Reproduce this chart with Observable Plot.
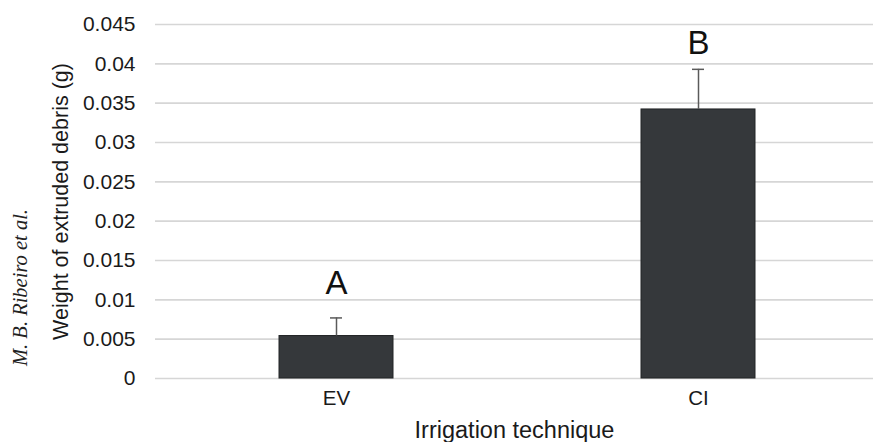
<!DOCTYPE html>
<html>
<head>
<meta charset="utf-8">
<script src="https://cdn.jsdelivr.net/npm/d3@7"></script>
<script src="https://cdn.jsdelivr.net/npm/@observablehq/plot@0.6"></script>
<style>
  html, body { margin: 0; padding: 0; background: #fff; }
  #chart svg { display: block; font-family: "Liberation Sans", Arial, sans-serif; }
</style>
</head>
<body>
<div id="chart"></div>
<script>
const categories = ["EV", "CI"];
const means = [0.0054, 0.0342];
const errors = [0.0023, 0.0051];
const letters = ["A", "B"];
const letterY = [0.0121, 0.0426];
const yTicks = [0, 0.005, 0.01, 0.015, 0.02, 0.025, 0.03, 0.035, 0.04, 0.045];
const yTickLabels = ["0", "0.005", "0.01", "0.015", "0.02", "0.025", "0.03", "0.035", "0.04", "0.045"];
const xTitle = "Irrigation technique";
const yTitle = "Weight of extruded debris (g)";
const sideNote = "M. B. Ribeiro et al.";

const rows = categories.map((c, i) => ({cat: c, mean: means[i], upper: means[i] + errors[i], letter: letters[i], ly: letterY[i]}));

const chart = Plot.plot({
  width: 873,
  height: 442,
  marginLeft: 155,
  marginRight: 0,
  marginTop: 24,
  marginBottom: 64,
  style: {fontFamily: "Liberation Sans, Arial, sans-serif", color: "#1a1a1a", background: "#fff"},
  x: {domain: categories, range: [155, 879], paddingInner: 0.685, paddingOuter: 0.3425, align: 0.5, label: null},
  y: {domain: [0, 0.045], label: null},
  marks: [
    Plot.ruleY(yTicks, {stroke: "#d6d6d6", strokeWidth: 1.6}),
    Plot.barY(rows, {x: "cat", y: "mean", fill: "#35383b", stroke: "#222426", strokeWidth: 1}),
    Plot.ruleX(rows, {x: "cat", y1: "mean", y2: "upper", stroke: "#5a5a5a", strokeWidth: 1.5}),
    Plot.tickY(rows, {x: "cat", y: "upper", stroke: "#5a5a5a", strokeWidth: 1.5, insetLeft: 51, insetRight: 51}),
    Plot.text(rows, {x: "cat", y: "ly", text: "letter", fontSize: 33, fill: "#111", lineAnchor: "middle"}),
    Plot.axisY({ticks: yTicks, tickFormat: (d, i) => yTickLabels[i], tickSize: 0, tickPadding: 20, fontSize: 21, label: null, fill: "#1a1a1a"}),
    Plot.axisX({tickSize: 0, tickPadding: 12, fontSize: 20.5, label: null, fill: "#1a1a1a"}),
    Plot.text([xTitle], {frameAnchor: "bottom", dy: 52, fontSize: 23.5, fill: "#1a1a1a", textAnchor: "middle", lineAnchor: "middle"}),
    Plot.text([yTitle], {frameAnchor: "left", dx: -94, rotate: -90, fontSize: 21.5, fill: "#1a1a1a", textAnchor: "middle", lineAnchor: "middle"}),
    Plot.text([sideNote], {frameAnchor: "left", dx: -135, dy: 86, rotate: -90, fontSize: 20.5, fontFamily: "Liberation Serif, Times New Roman, serif", fontStyle: "italic", fill: "#222", textAnchor: "middle", lineAnchor: "middle"})
  ]
});
document.getElementById("chart").appendChild(chart);
</script>
</body>
</html>
